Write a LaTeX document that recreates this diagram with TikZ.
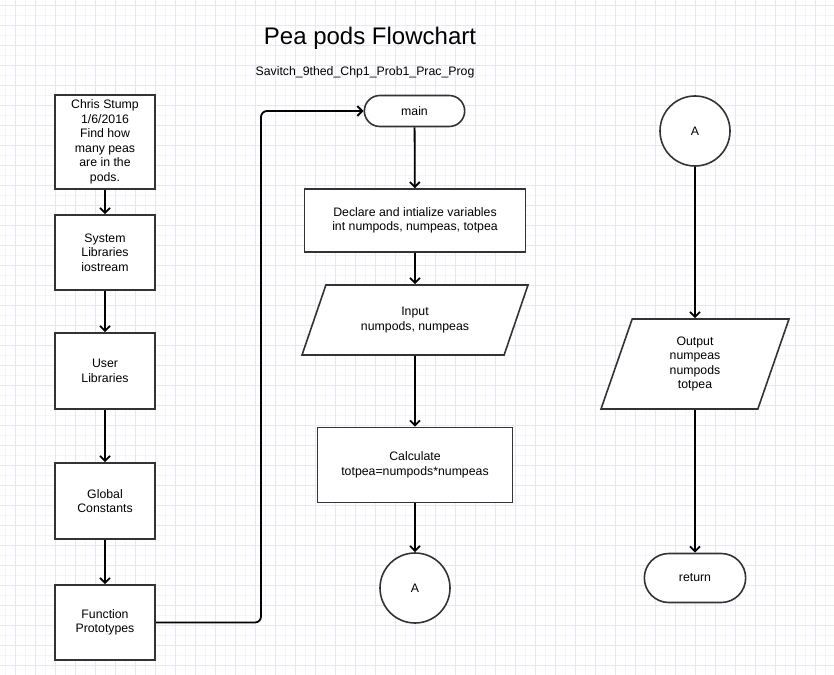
\documentclass[tikz,border=0pt]{standalone}
\usepackage{fontspec}
\setmainfont{Liberation Sans}
\usetikzlibrary{positioning, arrows.meta, shapes.geometric, shapes.misc, backgrounds}

\begin{document}
\begin{tikzpicture}[
  x=1pt, y=-1pt,
  align=center,
  font=\fontsize{12.3}{14.5}\selectfont,
  % Block styles
  procbox/.style={draw=black!80, rectangle, line width=1.6pt, fill=white, inner sep=2pt},
  termbox/.style={draw=black!80, rounded rectangle, line width=1.6pt, fill=white},
  iobox/.style={draw=black!80, trapezium, trapezium stretches body, line width=1.6pt, fill=white, inner sep=2pt},
  connbox/.style={draw=black!80, circle, minimum size=70pt, line width=1.6pt, fill=white, inner sep=0pt},
  % Arrow styles
  line/.style={draw, -{Straight Barb[length=5pt, width=10pt]}, line width=1.8pt},
  % Grid styles
  gridminor/.style={draw=blue!40!gray!6, line width=0.5pt},
  gridmajor/.style={draw=blue!40!gray!14, line width=0.6pt}
]
  \useasboundingbox (0,0) rectangle (834,674);

  % ==========================================
  % HEADER
  % ==========================================
  \node[font=\fontsize{24}{28}\selectfont] (title) at (370,38) {Pea pods Flowchart};
  \node[font=\fontsize{12.3}{14}\selectfont] (subtitle) at (365,72) {Savitch\_9thed\_Chp1\_Prob1\_Prac\_Prog};

  % ==========================================
  % LEFT COLUMN: PROGRAM HEADER (x = 105)
  % ==========================================
  \node[procbox, minimum width=100, minimum height=94] (info) at (105,142) {Chris Stump\\1/6/2016\\Find how\\many peas\\are in the\\pods.};
  \node[procbox, minimum width=100, minimum height=75] (syslib) at (105,252.5) {System\\Libraries\\iostream};
  \node[procbox, minimum width=100, minimum height=76] (userlib) at (105,371) {User\\Libraries};
  \node[procbox, minimum width=100, minimum height=76] (globconst) at (105,501) {Global\\Constants};
  \node[procbox, minimum width=100, minimum height=75] (protos) at (105,622.5) {Function\\Prototypes};

  \draw[line] (info) -- (syslib);
  \draw[line] (syslib) -- (userlib);
  \draw[line] (userlib) -- (globconst);
  \draw[line] (globconst) -- (protos);

  % ==========================================
  % MIDDLE COLUMN: MAIN (x = 415)
  % ==========================================
  \node[termbox, minimum width=107, minimum height=31] (main) at (414.5,111) {main};
  \node[procbox, minimum width=221, minimum height=63] (declare) at (415,220.5) {Declare and intialize variables\\int numpods, numpeas, totpea};
  \node[iobox, trapezium left angle=51, trapezium right angle=129, minimum width=226, minimum height=70] (input) at (415,320) {Input\\numpods, numpeas};
  \node[procbox, minimum width=195, minimum height=75] (calc) at (415,465) {Calculate\\totpea=numpods*numpeas};
  \node[connbox] (connA) at (415,588) {A};

  % Prototypes into main
  \coordinate (bend) at (261,400);
  \draw[line, rounded corners=6pt] (protos.east) -| (bend) |- (main.west);

  \draw[line] (main) -- (declare);
  \draw[line] (declare) -- (input);
  \draw[line] (input) -- (calc);
  \draw[line] (calc) -- (connA);

  % ==========================================
  % RIGHT COLUMN: OUTPUT (x = 695)
  % ==========================================
  \node[connbox] (connB) at (695,131) {A};
  \node[iobox, trapezium left angle=62, trapezium right angle=118, minimum width=188, minimum height=90] (output) at (695,364) {Output\\numpeas\\numpods\\totpea};
  \node[termbox, minimum width=108, minimum height=49] (ret) at (695,578) {return};

  \draw[line] (connB) -- (output);
  \draw[line] (output) -- (ret);

  % ==========================================
  % BACKGROUND LAYER
  % ==========================================
  \begin{scope}[on background layer]
    \fill[white] (0,0) rectangle (834,674);
    \clip (0,0) rectangle (834,674);
    \begin{scope}[shift={(5,5)}]
      \draw[gridminor, step=10pt] (-10,-10) grid (840,680);
    \end{scope}
    \begin{scope}[shift={(15,5)}]
      \draw[gridmajor, step=20pt] (-20,-20) grid (840,680);
    \end{scope}
  \end{scope}

\end{tikzpicture}
\end{document}
